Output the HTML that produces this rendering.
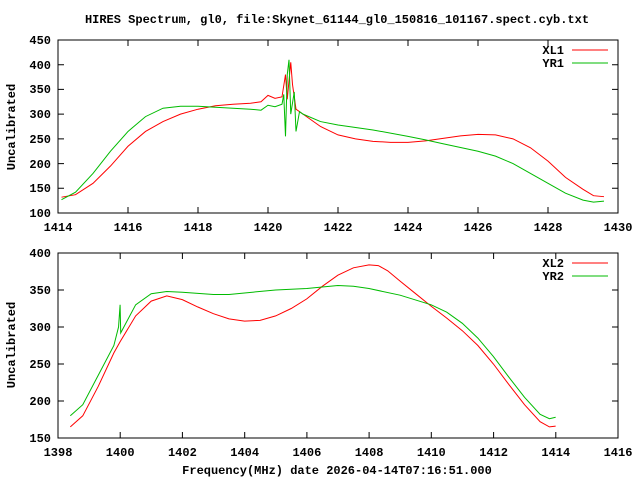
<!DOCTYPE html>
<html><head><meta charset="utf-8"><style>
html,body{margin:0;padding:0;background:#fff}
text{font-family:"Liberation Mono",monospace;font-size:12px;font-weight:bold;fill:#000}
</style></head><body>
<svg width="640" height="480" viewBox="0 0 640 480" xmlns="http://www.w3.org/2000/svg">
<rect width="640" height="480" fill="#fff"/>
<text x="337" y="23" text-anchor="middle">HIRES Spectrum, gl0, file:Skynet_61144_gl0_150816_101167.spect.cyb.txt</text>
<!-- top frame -->
<rect x="58" y="40" width="560" height="173" fill="none" stroke="#000"/>
<g stroke="#000">
<path d="M58 188.3h6M58 163.6h6M58 138.9h6M58 114.1h6M58 89.4h6M58 64.7h6M618 188.3h-6M618 163.6h-6M618 138.9h-6M618 114.1h-6M618 89.4h-6M618 64.7h-6"/>
<path d="M128 213v-6M198 213v-6M268 213v-6M338 213v-6M408 213v-6M478 213v-6M548 213v-6M128 40v6M198 40v6M268 40v6M338 40v6M408 40v6M478 40v6M548 40v6"/>
</g>
<g text-anchor="end">
<text x="51" y="217">100</text><text x="51" y="192">150</text><text x="51" y="168">200</text><text x="51" y="143">250</text><text x="51" y="118">300</text><text x="51" y="93">350</text><text x="51" y="69">400</text><text x="51" y="44">450</text>
</g>
<g text-anchor="middle">
<text x="58" y="231">1414</text><text x="128" y="231">1416</text><text x="198" y="231">1418</text><text x="268" y="231">1420</text><text x="338" y="231">1422</text><text x="408" y="231">1424</text><text x="478" y="231">1426</text><text x="548" y="231">1428</text><text x="618" y="231">1430</text>
</g>
<text transform="translate(15,127) rotate(-90)" text-anchor="middle">Uncalibrated</text>
<text x="564" y="54" text-anchor="end">XL1</text><path d="M572 50h36" stroke="#f00"/>
<text x="564" y="67" text-anchor="end">YR1</text><path d="M572 63h36" stroke="#0b0"/>
<g transform="matrix(35,0,0,-0.4943,-49432,262.43)" fill="none" stroke-width="1" vector-effect="non-scaling-stroke">
<polyline vector-effect="non-scaling-stroke" stroke="#f00" points="1414.1,132 1414.5,137 1415,160 1415.5,195 1416,235 1416.5,265 1417,285 1417.5,300 1418,310 1418.5,317 1419,320 1419.5,322 1419.8,325 1420,338 1420.2,332 1420.4,335 1420.5,380 1420.55,330 1420.65,405 1420.7,360 1420.8,310 1421,300 1421.5,275 1422,258 1422.5,250 1423,245 1423.5,243 1424,243 1424.5,246 1425,251 1425.5,256 1426,259 1426.5,258 1427,250 1427.5,232 1428,205 1428.5,172 1429,148 1429.3,135 1429.6,133"/>
<polyline vector-effect="non-scaling-stroke" stroke="#0b0" points="1414.1,127 1414.5,142 1415,180 1415.5,225 1416,265 1416.5,295 1417,312 1417.5,316 1418,316 1418.5,314 1419,312 1419.5,310 1419.8,308 1420,318 1420.2,315 1420.4,320 1420.45,340 1420.5,255 1420.55,380 1420.6,410 1420.65,300 1420.75,345 1420.8,265 1420.9,305 1421,300 1421.5,285 1422,278 1423,268 1424,255 1424.5,248 1425,240 1426,225 1426.5,215 1427,200 1427.5,180 1428,160 1428.5,140 1429,126 1429.3,122 1429.6,124"/>
</g>
<!-- bottom frame -->
<rect x="58" y="253" width="560" height="185" fill="none" stroke="#000"/>
<g stroke="#000">
<path d="M58 401h6M58 364h6M58 327h6M58 290h6M618 401h-6M618 364h-6M618 327h-6M618 290h-6"/>
<path d="M120.2 438v-6M182.4 438v-6M244.7 438v-6M306.9 438v-6M369.1 438v-6M431.3 438v-6M493.6 438v-6M555.8 438v-6M120.2 253v6M182.4 253v6M244.7 253v6M306.9 253v6M369.1 253v6M431.3 253v6M493.6 253v6M555.8 253v6"/>
</g>
<g text-anchor="end">
<text x="51" y="442">150</text><text x="51" y="405">200</text><text x="51" y="368">250</text><text x="51" y="331">300</text><text x="51" y="294">350</text><text x="51" y="257">400</text>
</g>
<g text-anchor="middle">
<text x="58" y="456">1398</text><text x="120.2" y="456">1400</text><text x="182.4" y="456">1402</text><text x="244.7" y="456">1404</text><text x="306.9" y="456">1406</text><text x="369.1" y="456">1408</text><text x="431.3" y="456">1410</text><text x="493.6" y="456">1412</text><text x="555.8" y="456">1414</text><text x="618" y="456">1416</text>
</g>
<text transform="translate(15,345) rotate(-90)" text-anchor="middle">Uncalibrated</text>
<text x="337" y="474" text-anchor="middle">Frequency(MHz) date 2026-04-14T07:16:51.000</text>
<text x="564" y="267" text-anchor="end">XL2</text><path d="M572 263h36" stroke="#f00"/>
<text x="564" y="280" text-anchor="end">YR2</text><path d="M572 276h36" stroke="#0b0"/>
<g transform="matrix(31.111,0,0,-0.74,-43435.3,549)" fill="none">
<polyline vector-effect="non-scaling-stroke" stroke="#f00" points="1398.4,165 1398.8,180 1399.3,220 1399.8,265 1400,280 1400.5,315 1401,335 1401.5,342 1402,337 1402.5,327 1403,318 1403.5,311 1404,308 1404.5,309 1405,315 1405.5,325 1406,338 1406.5,355 1407,370 1407.5,380 1408,384 1408.3,383 1408.6,376 1409,362 1409.5,345 1410,328 1410.5,312 1411,295 1411.5,275 1412,250 1412.5,222 1413,195 1413.5,172 1413.8,165 1414,166"/>
<polyline vector-effect="non-scaling-stroke" stroke="#0b0" points="1398.4,180 1398.8,195 1399.3,235 1399.8,275 1399.95,300 1400,330 1400.02,292 1400.5,330 1401,345 1401.5,348 1402,347 1403,344 1403.5,344 1404,346 1405,350 1406,352 1407,356 1407.5,355 1408,352 1409,343 1410,330 1410.5,320 1411,305 1411.5,285 1412,260 1412.5,232 1413,205 1413.5,182 1413.8,176 1414,178"/>
</g>
</svg>
</body></html>
